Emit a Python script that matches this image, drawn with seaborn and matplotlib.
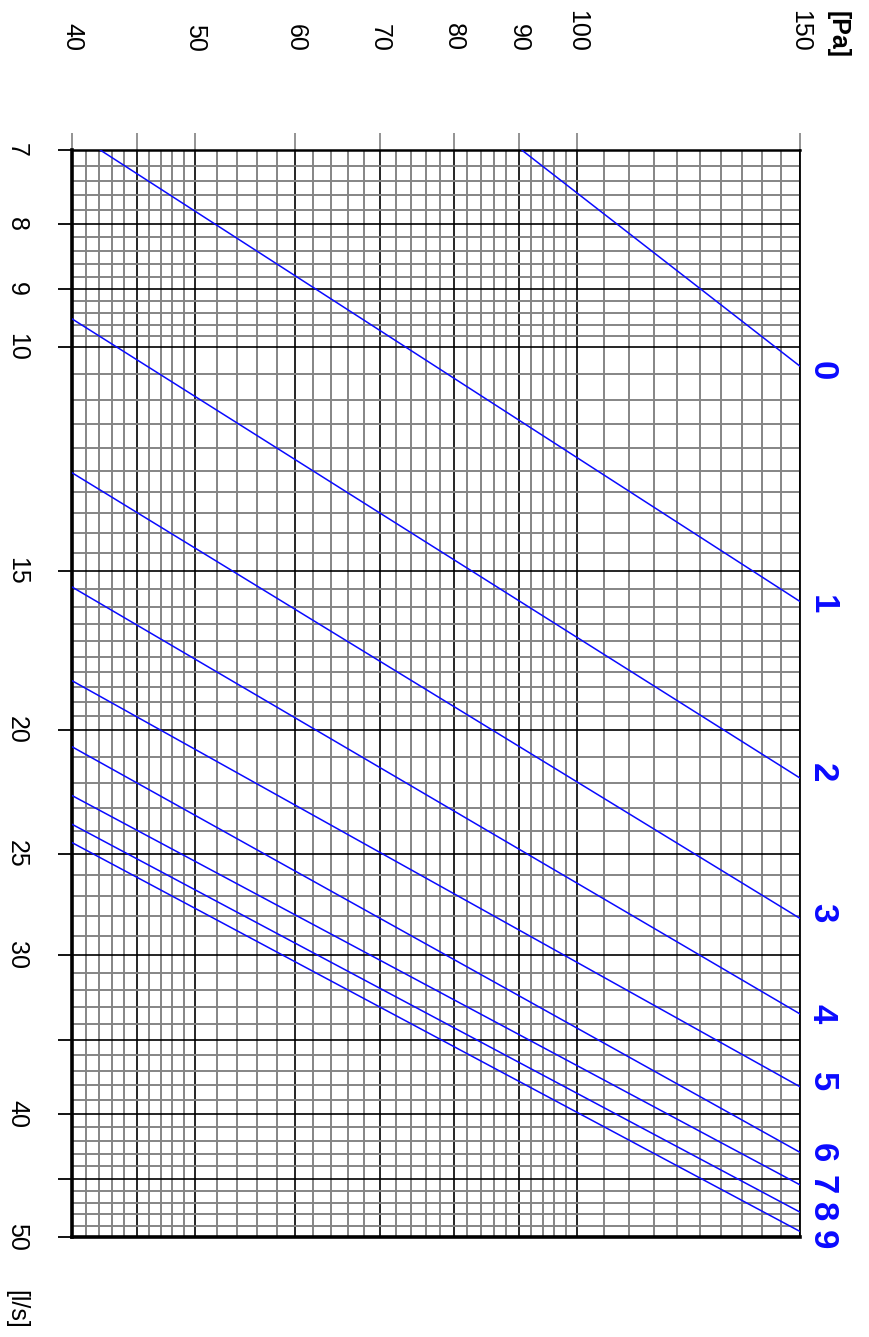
import numpy as np
import pandas as pd
import seaborn as sns
from matplotlib import pyplot as plt
from matplotlib import ticker

# curve ids and end points (pressure [Pa], flow [l/s])
CURVES = ["0", "1", "2", "3", "4", "5", "6", "7", "8", "9"]
P_START = [90.5, 42.1, 40, 40, 40, 40, 40, 40, 40, 40]
Q_START = [7.0, 7.0, 9.50, 12.55, 15.43, 18.28, 20.6, 22.5, 23.7, 24.5]
P_END = [150, 150, 150, 150, 150, 150, 150, 150, 150, 150]
Q_END = [10.35, 15.84, 21.8, 28.1, 33.4, 38.1, 42.9, 45.5, 47.8, 49.5]

P_MAJOR = [40, 45, 50, 60, 70, 80, 90, 100, 150]
P_LABELS = ["40", "", "50", "60", "70", "80", "90", "100", "150"]
P_MINOR = (list(range(41, 50)) + list(range(52, 100, 2)) + list(range(105, 150, 5)))

Q_MAJOR = [7, 8, 9, 10, 15, 20, 25, 30, 35, 40, 45, 50]
Q_LABELS = ["7", "8", "9", "10", "15", "20", "25", "30", "", "40", "", "50"]
Q_MINOR = (list(np.arange(7.2, 10, 0.2).round(1)) + list(np.arange(10.5, 20, 0.5))
           + list(range(21, 50)))

# vertical nudge of the curve labels in points (positive = further down)
LABEL_NUDGE = [3, 2, -4, -4, 0, -4, 0, 0, 0, 6]

if __name__ == "__main__":
    sns.set_style("white")
    plt.rcParams["font.family"] = ["Liberation Sans", "DejaVu Sans"]
    plt.rcParams["text.color"] = "black"

    df = pd.DataFrame({
        "curve": CURVES + CURVES,
        "pressure": P_START + P_END,
        "flow": Q_START + Q_END,
    })

    fig = plt.figure(figsize=(8.7, 13.37), dpi=100)
    ax = fig.add_axes([72 / 870, 100 / 1337, 728 / 870, 1087 / 1337])
    ax.set_xscale("log")
    ax.set_yscale("log")

    sns.lineplot(
        data=df, x="pressure", y="flow", hue="curve",
        palette={c: "#0a0aff" for c in CURVES},
        estimator=None, legend=False, linewidth=1.1, ax=ax, zorder=5,
    )

    ax.set_xlim(40, 150)
    ax.set_ylim(50, 7)
    ax.set_xlabel("")
    ax.set_ylabel("")

    ax.xaxis.set_major_locator(ticker.FixedLocator(P_MAJOR))
    ax.xaxis.set_major_formatter(ticker.FixedFormatter(P_LABELS))
    ax.xaxis.set_minor_locator(ticker.FixedLocator(P_MINOR))
    ax.xaxis.set_minor_formatter(ticker.NullFormatter())
    ax.yaxis.set_major_locator(ticker.FixedLocator(Q_MAJOR))
    ax.yaxis.set_major_formatter(ticker.FixedFormatter(Q_LABELS))
    ax.yaxis.set_minor_locator(ticker.FixedLocator(Q_MINOR))
    ax.yaxis.set_minor_formatter(ticker.NullFormatter())

    ax.set_axisbelow(True)
    ax.grid(which="minor", color="#858585", linewidth=1.4)
    ax.grid(which="major", color="black", linewidth=1.2)

    ax.tick_params(axis="x", which="major", top=True, bottom=False,
                   labeltop=True, labelbottom=False, length=12, width=1.2,
                   color="#808080", labelrotation=-90, pad=59, labelsize=18,
                   labelcolor="black")
    ax.tick_params(axis="y", which="major", left=True, length=10, width=1.3,
                   color="black", labelrotation=-90, pad=21, labelsize=18,
                   labelcolor="black")
    ax.tick_params(which="minor", length=0)
    plt.setp(ax.get_yticklabels(), va="center")

    for side, lw in [("left", 2.6), ("bottom", 2.6), ("top", 1.8), ("right", 1.3)]:
        ax.spines[side].set_visible(True)
        ax.spines[side].set_color("black")
        ax.spines[side].set_linewidth(lw)

    for c, q, dy in zip(CURVES, Q_END, LABEL_NUDGE):
        ax.annotate(c, xy=(150, q), xytext=(16, -dy), textcoords="offset points",
                    ha="center", va="center", rotation=-90, fontsize=25,
                    fontweight="bold", color="#0a0aff", annotation_clip=False)

    fig.text(838 / 870, 1 - 35 / 1337, "[Pa]", rotation=-90, ha="center",
             va="center", fontsize=18, fontweight="bold", color="black")
    fig.text(16 / 870, 1 - 1309 / 1337, "[l/s]", rotation=-90, ha="center",
             va="center", fontsize=18, color="black")

    plt.savefig("out.png", dpi=100)
